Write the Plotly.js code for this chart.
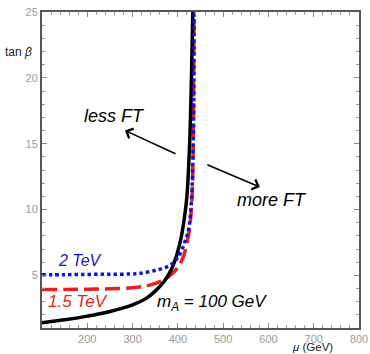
<!DOCTYPE html>
<html>
<head>
<meta charset="utf-8">
<script src="https://cdn.plot.ly/plotly-3.0.1.min.js"></script>
<style>html,body{margin:0;padding:0;background:#fff;}#plot{width:370px;height:354px;}</style>
</head>
<body>
<div id="plot"></div>
<script>
// mA = 100 GeV (black, solid)
const muBlack = [100,150,200,250,300,330,350,370,385,398,408,415,420,426,430,433];
const tbBlack = [1.4,1.62,1.9,2.25,2.75,3.25,3.8,4.55,5.4,6.6,8.0,9.5,11,15,20,25];
// 1.5 TeV (red, dashed)
const muRed = [100,150,200,250,300,338,368,385,400,412,420,426,431,434,435.5];
const tbRed = [3.92,3.93,3.95,3.98,4.05,4.26,4.64,5.05,5.6,6.4,7.4,8.6,10.7,15,25];
// 2 TeV (blue, dotted)
const muBlue = [100,150,200,250,294,316,353,383,401,415,424,430,434,436];
const tbBlue = [5.05,5.05,5.07,5.08,5.1,5.15,5.4,5.77,6.4,7.5,8.55,10.7,15,25];

const xTicks = [200,300,400,500,600,700,800];
const yTicks = [5,10,15,20,25];

const traces = [
  {x: muRed, y: tbRed, mode:'lines', line:{color:'#ee1c1c', width:3.5, dash:'15px,6px', shape:'spline'}},
  {x: muBlack, y: tbBlack, mode:'lines', line:{color:'#000000', width:3.5, shape:'spline'}},
  {x: muBlue, y: tbBlue, mode:'lines', line:{color:'#1414d8', width:3.5, dash:'3.5px,3px', shape:'spline'}}
];

const axisCommon = {
  showgrid:false, zeroline:false, showline:true, linecolor:'#555', linewidth:2,
  mirror:'allticks', ticks:'inside', ticklen:5, tickcolor:'#888', tickwidth:1,
  tickfont:{family:'Liberation Sans, Arial, sans-serif', size:11, color:'#999'},
  tickmode:'array'
};

const layout = {
  width:370, height:354,
  margin:{l:42, r:11, t:12, b:26},
  paper_bgcolor:'#fff', plot_bgcolor:'#fff',
  showlegend:false,
  xaxis: Object.assign({}, axisCommon, {range:[100,800], tickvals:xTicks,
    minor:{tickmode:'linear', tick0:0, dtick:20, ticks:'inside', ticklen:3, tickcolor:'#999'}}),
  yaxis: Object.assign({}, axisCommon, {range:[1,25], tickvals:yTicks,
    minor:{tickmode:'linear', tick0:0, dtick:1, ticks:'inside', ticklen:3, tickcolor:'#999'}}),
  annotations: [
    {xref:'paper', yref:'paper', x:-0.0726, y:0.873, xanchor:'center', yanchor:'middle', text:'tan <i>β</i>', showarrow:false,
     font:{family:'Liberation Sans, Arial, sans-serif', size:12, color:'#222'}},
    {xref:'paper', yref:'paper', x:0.852, y:-0.060, xanchor:'center', yanchor:'middle', text:'<i>μ</i> (GeV)', showarrow:false,
     font:{family:'Liberation Sans, Arial, sans-serif', size:11.5, color:'#222'}},
    {x:259, y:17.1, text:'<i>less FT</i>', showarrow:false,
     font:{family:'Liberation Sans, Arial, sans-serif', size:18, color:'#000'}},
    {x:608, y:10.7, text:'<i>more FT</i>', showarrow:false,
     font:{family:'Liberation Sans, Arial, sans-serif', size:18, color:'#000'}},
    {x:183, y:6.1, text:'<i>2 TeV</i>', showarrow:false,
     font:{family:'Liberation Sans, Arial, sans-serif', size:16, color:'#1414c8'}},
    {x:179.5, y:3.05, text:'<i>1.5 TeV</i>', showarrow:false,
     font:{family:'Liberation Sans, Arial, sans-serif', size:17, color:'#ee1c1c'}},
    {x:349.5, y:2.9, xanchor:'left', text:'<i>m</i><sub><i>A</i></sub><i> = 100 GeV</i>', showarrow:false,
     font:{family:'Liberation Sans, Arial, sans-serif', size:17, color:'#000'}},
    {x:283.3, y:16.0, ax:52, ay:24, text:'', showarrow:true, arrowhead:4, arrowsize:1.3, arrowwidth:1.6, arrowcolor:'#000'},
    {x:581, y:11.7, ax:-54, ay:-23, text:'', showarrow:true, arrowhead:4, arrowsize:1.3, arrowwidth:1.6, arrowcolor:'#000'}
  ]
};

Plotly.newPlot('plot', traces, layout, {staticPlot:true, displayModeBar:false});
</script>
</body>
</html>
